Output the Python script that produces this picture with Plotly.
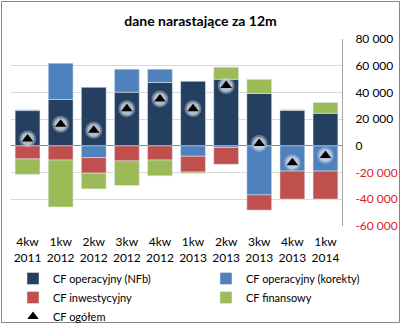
import plotly.graph_objects as go

categories = ["4kw<br>2011", "1kw<br>2012", "2kw<br>2012", "3kw<br>2012", "4kw<br>2012",
              "1kw<br>2013", "2kw<br>2013", "3kw<br>2013", "4kw<br>2013", "1kw<br>2014"]
cf_nfb = [26400, 34700, 43800, 40200, 47500, 48300, 49800, 39200, 26600, 24400]
cf_korekty = [600, 27200, -8800, 17200, 9900, -7800, -1200, -36700, -18900, -18900]
cf_inwest = [-9800, -10600, -11600, -11300, -10600, -11800, -12600, -11400, -20900, -20900]
cf_finans = [-11600, -35200, -11800, -18400, -11800, -1000, 9100, 10600, 600, 8100]
cf_ogolem = [5200, 16100, 11600, 27700, 35000, 27700, 45100, 1700, -12600, -7300]

tick_vals = [-60000, -40000, -20000, 0, 20000, 40000, 60000, 80000]
tick_text = ["<span style='color:#e0201f'>-60 000</span>", "<span style='color:#e0201f'>-40 000</span>",
             "<span style='color:#e0201f'>-20 000</span>", "0", "20 000", "40 000", "60 000", "80 000"]

FONT = "Lato"
W, H = 401, 324
ML, MR, MT, MB = 11, 59, 39, 98

fig = go.Figure()
fig.add_bar(x=categories, y=cf_nfb, name="CF operacyjny (NFb)", marker_color="#243f60", legend="legend")
fig.add_bar(x=categories, y=cf_korekty, name="CF operacyjny (korekty)", marker_color="#4f81bd", legend="legend2")
fig.add_bar(x=categories, y=cf_inwest, name="CF inwestycyjny", marker_color="#c0504d", legend="legend")
fig.add_bar(x=categories, y=cf_finans, name="CF finansowy", marker_color="#9bbb59", legend="legend2")
fig.add_scatter(x=categories, y=cf_ogolem, mode="markers", showlegend=False, hoverinfo="skip",
                marker=dict(symbol="circle", size=17, color="rgba(190,198,210,0.45)", line_width=0))
fig.add_scatter(x=categories, y=cf_ogolem, mode="markers", showlegend=False, hoverinfo="skip",
                marker=dict(symbol="circle", size=13, color="rgba(225,230,236,0.6)", line_width=0))
fig.add_scatter(x=categories, y=cf_ogolem, mode="markers", name="CF ogółem", legend="legend",
                marker=dict(symbol="triangle-up", size=10, color="black", line_width=0))

pw = W - ML - MR
ph = H - MT - MB
fig.add_shape(type="rect", xref="paper", yref="paper",
              x0=(1.5 - ML) / pw, x1=(399.5 - ML) / pw,
              y0=(H - MB - 322.5) / ph, y1=(H - MB - 1.5) / ph,
              line=dict(color="#868686", width=1), fillcolor="rgba(0,0,0,0)", layer="above")

legend_common = dict(orientation="v", xref="container", yref="container", xanchor="left",
                     yanchor="top", font=dict(family=FONT, size=11), itemwidth=30,
                     tracegroupgap=0, bgcolor="rgba(0,0,0,0)", traceorder="normal")

fig.update_layout(
    width=W, height=H,
    margin=dict(l=ML, r=MR, t=MT, b=MB, autoexpand=False),
    paper_bgcolor="white", plot_bgcolor="white",
    barmode="relative", bargap=0.25,
    font=dict(family=FONT, size=12, color="#000000"),
    title=dict(text="<b>dane narastające za 12m</b>", x=0.5, xref="container",
               y=1 - 21 / H, yref="container", yanchor="middle",
               font=dict(family=FONT, size=14, color="black")),
    xaxis=dict(showgrid=False, showline=False, zeroline=False, ticks="",
               ticklabelstandoff=7,
               tickfont=dict(family=FONT, size=12), range=[-0.5, 9.5]),
    yaxis=dict(side="right", range=[-60000, 80000], tickvals=tick_vals, ticktext=tick_text,
               showgrid=True, gridcolor="#d9d9d9", gridwidth=1,
               zeroline=True, zerolinecolor="#868686", zerolinewidth=1,
               showline=True, linecolor="#a6a6a6", linewidth=1, ticks="",
               ticklabelstandoff=10, tickfont=dict(family=FONT, size=12)),
    legend=dict(legend_common, x=13 / W, y=1 - 264 / H),
    legend2=dict(legend_common, x=206 / W, y=1 - 264 / H),
    showlegend=True,
)

fig.write_html("out.html")
